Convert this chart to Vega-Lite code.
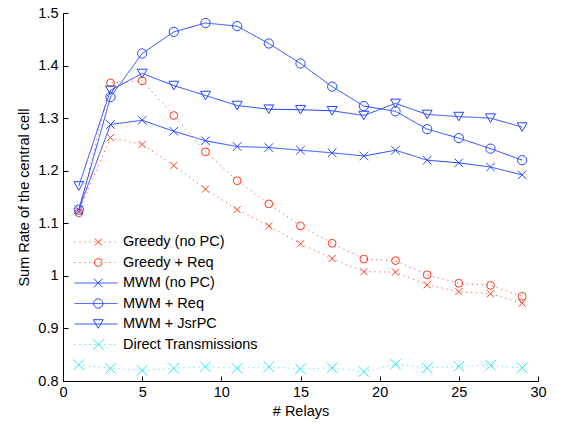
{
  "$schema": "https://vega.github.io/schema/vega-lite/v6.json",
  "autosize": {"type": "none"},
  "width": 475,
  "height": 368,
  "padding": {"left": 63, "top": 13, "right": 25, "bottom": 43},
  "background": "white",
  "config": {
    "view": {"stroke": null},
    "font": "Liberation Sans",
    "axis": {
      "grid": false, "domainColor": "black", "tickColor": "black", "labelColor": "black",
      "titleColor": "black", "labelFont": "Liberation Sans", "titleFont": "Liberation Sans",
      "labelFontSize": 14.5, "titleFontSize": 14.5, "titleFontWeight": "normal",
      "tickSize": -5, "domainWidth": 1, "tickWidth": 1
    }
  },
  "data": {"values": [
    {"s": "Greedy (no PC)", "x": 1, "y": 1.122}, {"s": "Greedy (no PC)", "x": 3, "y": 1.263}, {"s": "Greedy (no PC)", "x": 5, "y": 1.250}, {"s": "Greedy (no PC)", "x": 7, "y": 1.210}, {"s": "Greedy (no PC)", "x": 9, "y": 1.165}, {"s": "Greedy (no PC)", "x": 11, "y": 1.126}, {"s": "Greedy (no PC)", "x": 13, "y": 1.095}, {"s": "Greedy (no PC)", "x": 15, "y": 1.061}, {"s": "Greedy (no PC)", "x": 17, "y": 1.033}, {"s": "Greedy (no PC)", "x": 19, "y": 1.008}, {"s": "Greedy (no PC)", "x": 21, "y": 1.007}, {"s": "Greedy (no PC)", "x": 23, "y": 0.983}, {"s": "Greedy (no PC)", "x": 25, "y": 0.970}, {"s": "Greedy (no PC)", "x": 27, "y": 0.966}, {"s": "Greedy (no PC)", "x": 29, "y": 0.948},
    {"s": "Greedy + Req", "x": 1, "y": 1.120}, {"s": "Greedy + Req", "x": 3, "y": 1.367}, {"s": "Greedy + Req", "x": 5, "y": 1.371}, {"s": "Greedy + Req", "x": 7, "y": 1.305}, {"s": "Greedy + Req", "x": 9, "y": 1.236}, {"s": "Greedy + Req", "x": 11, "y": 1.181}, {"s": "Greedy + Req", "x": 13, "y": 1.137}, {"s": "Greedy + Req", "x": 15, "y": 1.095}, {"s": "Greedy + Req", "x": 17, "y": 1.062}, {"s": "Greedy + Req", "x": 19, "y": 1.032}, {"s": "Greedy + Req", "x": 21, "y": 1.029}, {"s": "Greedy + Req", "x": 23, "y": 1.002}, {"s": "Greedy + Req", "x": 25, "y": 0.986}, {"s": "Greedy + Req", "x": 27, "y": 0.982}, {"s": "Greedy + Req", "x": 29, "y": 0.961},
    {"s": "MWM (no PC)", "x": 1, "y": 1.126}, {"s": "MWM (no PC)", "x": 3, "y": 1.288}, {"s": "MWM (no PC)", "x": 5, "y": 1.296}, {"s": "MWM (no PC)", "x": 7, "y": 1.275}, {"s": "MWM (no PC)", "x": 9, "y": 1.257}, {"s": "MWM (no PC)", "x": 11, "y": 1.246}, {"s": "MWM (no PC)", "x": 13, "y": 1.244}, {"s": "MWM (no PC)", "x": 15, "y": 1.239}, {"s": "MWM (no PC)", "x": 17, "y": 1.234}, {"s": "MWM (no PC)", "x": 19, "y": 1.228}, {"s": "MWM (no PC)", "x": 21, "y": 1.239}, {"s": "MWM (no PC)", "x": 23, "y": 1.220}, {"s": "MWM (no PC)", "x": 25, "y": 1.215}, {"s": "MWM (no PC)", "x": 27, "y": 1.207}, {"s": "MWM (no PC)", "x": 29, "y": 1.192},
    {"s": "MWM + Req", "x": 1, "y": 1.126}, {"s": "MWM + Req", "x": 3, "y": 1.340}, {"s": "MWM + Req", "x": 5, "y": 1.423}, {"s": "MWM + Req", "x": 7, "y": 1.464}, {"s": "MWM + Req", "x": 9, "y": 1.481}, {"s": "MWM + Req", "x": 11, "y": 1.475}, {"s": "MWM + Req", "x": 13, "y": 1.442}, {"s": "MWM + Req", "x": 15, "y": 1.404}, {"s": "MWM + Req", "x": 17, "y": 1.360}, {"s": "MWM + Req", "x": 19, "y": 1.323}, {"s": "MWM + Req", "x": 21, "y": 1.313}, {"s": "MWM + Req", "x": 23, "y": 1.279}, {"s": "MWM + Req", "x": 25, "y": 1.262}, {"s": "MWM + Req", "x": 27, "y": 1.242}, {"s": "MWM + Req", "x": 29, "y": 1.220},
    {"s": "MWM + JsrPC", "x": 1, "y": 1.171}, {"s": "MWM + JsrPC", "x": 3, "y": 1.353}, {"s": "MWM + JsrPC", "x": 5, "y": 1.385}, {"s": "MWM + JsrPC", "x": 7, "y": 1.362}, {"s": "MWM + JsrPC", "x": 9, "y": 1.343}, {"s": "MWM + JsrPC", "x": 11, "y": 1.324}, {"s": "MWM + JsrPC", "x": 13, "y": 1.317}, {"s": "MWM + JsrPC", "x": 15, "y": 1.316}, {"s": "MWM + JsrPC", "x": 17, "y": 1.314}, {"s": "MWM + JsrPC", "x": 19, "y": 1.305}, {"s": "MWM + JsrPC", "x": 21, "y": 1.328}, {"s": "MWM + JsrPC", "x": 23, "y": 1.307}, {"s": "MWM + JsrPC", "x": 25, "y": 1.303}, {"s": "MWM + JsrPC", "x": 27, "y": 1.300}, {"s": "MWM + JsrPC", "x": 29, "y": 1.283},
    {"s": "Direct Transmissions", "x": 1, "y": 0.831}, {"s": "Direct Transmissions", "x": 3, "y": 0.824}, {"s": "Direct Transmissions", "x": 5, "y": 0.820}, {"s": "Direct Transmissions", "x": 7, "y": 0.824}, {"s": "Direct Transmissions", "x": 9, "y": 0.827}, {"s": "Direct Transmissions", "x": 11, "y": 0.824}, {"s": "Direct Transmissions", "x": 13, "y": 0.827}, {"s": "Direct Transmissions", "x": 15, "y": 0.823}, {"s": "Direct Transmissions", "x": 17, "y": 0.825}, {"s": "Direct Transmissions", "x": 19, "y": 0.818}, {"s": "Direct Transmissions", "x": 21, "y": 0.832}, {"s": "Direct Transmissions", "x": 23, "y": 0.825}, {"s": "Direct Transmissions", "x": 25, "y": 0.828}, {"s": "Direct Transmissions", "x": 27, "y": 0.830}, {"s": "Direct Transmissions", "x": 29, "y": 0.825}
  ]},
  "encoding": {
    "x": {"field": "x", "type": "quantitative", "scale": {"domain": [0, 30], "nice": false},
      "axis": {"values": [0, 5, 10, 15, 20, 25, 30], "title": "# Relays", "labelPadding": 9, "titlePadding": 6, "labelFlush": false}},
    "y": {"field": "y", "type": "quantitative", "scale": {"domain": [0.8, 1.5], "nice": false, "zero": false},
      "axis": {"values": [0.8, 0.9, 1.0, 1.1, 1.2, 1.3, 1.4, 1.5], "format": ".1~f", "title": "Sum Rate of the central cell", "labelPadding": 10, "titlePadding": 6, "labelFlush": false}}
  },
  "layer": [
    {
      "mark": {"type": "line", "strokeWidth": 1},
      "encoding": {
        "color": {"field": "s", "type": "nominal",
          "scale": {"domain": ["Greedy (no PC)", "Greedy + Req", "MWM (no PC)", "MWM + Req", "MWM + JsrPC", "Direct Transmissions"], "range": ["#ff3a1a", "#ff3a1a", "#2244ff", "#2244ff", "#2244ff", "#22e6f5"]},
          "legend": {"orient": "none", "legendX": 11, "legendY": 221, "title": null, "symbolType": "stroke", "symbolSize": 1849, "symbolStrokeWidth": 1, "labelFontSize": 14.5, "labelFont": "Liberation Sans", "labelColor": "black", "labelOffset": 5, "rowPadding": 4.5, "clipHeight": 16, "padding": 0}},
        "strokeDash": {"field": "s", "type": "nominal",
          "scale": {"domain": ["Greedy (no PC)", "Greedy + Req", "MWM (no PC)", "MWM + Req", "MWM + JsrPC", "Direct Transmissions"], "range": [[1, 4], [1, 4], [1, 0], [1, 0], [1, 0], [1, 4]]},
          "legend": {"orient": "none", "legendX": 11, "legendY": 221, "title": null, "symbolType": "stroke", "symbolSize": 1849, "symbolStrokeWidth": 1, "labelFontSize": 14.5, "labelFont": "Liberation Sans", "labelColor": "black", "labelOffset": 5, "rowPadding": 4.5, "clipHeight": 16, "padding": 0}}
      }
    },
    {
      "mark": {"type": "point", "filled": false, "strokeWidth": 1, "opacity": 1},
      "encoding": {
        "color": {"field": "s", "type": "nominal",
          "scale": {"domain": ["Greedy (no PC)", "Greedy + Req", "MWM (no PC)", "MWM + Req", "MWM + JsrPC", "Direct Transmissions"], "range": ["#ff3a1a", "#ff3a1a", "#2244ff", "#2244ff", "#2244ff", "#22e6f5"]},
          "legend": {"orient": "none", "legendX": 28, "legendY": 221, "title": null, "labelFontSize": 14.5, "labelExpr": "''", "labelOffset": 5, "rowPadding": 4.5, "clipHeight": 16, "padding": 0, "symbolStrokeWidth": 1}},
        "shape": {"field": "s", "type": "nominal",
          "scale": {"domain": ["Greedy (no PC)", "Greedy + Req", "MWM (no PC)", "MWM + Req", "MWM + JsrPC", "Direct Transmissions"], "range": ["M-1,-1L1,1M-1,1L1,-1", "circle", "M-1,-1L1,1M-1,1L1,-1", "circle", "triangle-down", "M-1,-1L1,1M-1,1L1,-1"]},
          "legend": {"orient": "none", "legendX": 28, "legendY": 221, "title": null, "labelFontSize": 14.5, "labelExpr": "''", "labelOffset": 5, "rowPadding": 4.5, "clipHeight": 16, "padding": 0, "symbolStrokeWidth": 1}},
        "size": {"field": "s", "type": "nominal",
          "scale": {"domain": ["Greedy (no PC)", "Greedy + Req", "MWM (no PC)", "MWM + Req", "MWM + JsrPC", "Direct Transmissions"], "range": [49, 110, 49, 110, 144, 49]},
          "legend": {"orient": "none", "legendX": 28, "legendY": 221, "title": null, "labelFontSize": 14.5, "labelExpr": "''", "labelOffset": 5, "rowPadding": 4.5, "clipHeight": 16, "padding": 0, "symbolStrokeWidth": 1}}
      }
    }
  ],
  "resolve": {
    "scale": {"color": "independent", "strokeDash": "independent", "shape": "independent", "size": "independent"},
    "legend": {"color": "independent", "strokeDash": "independent", "shape": "independent", "size": "independent"}
  }
}
